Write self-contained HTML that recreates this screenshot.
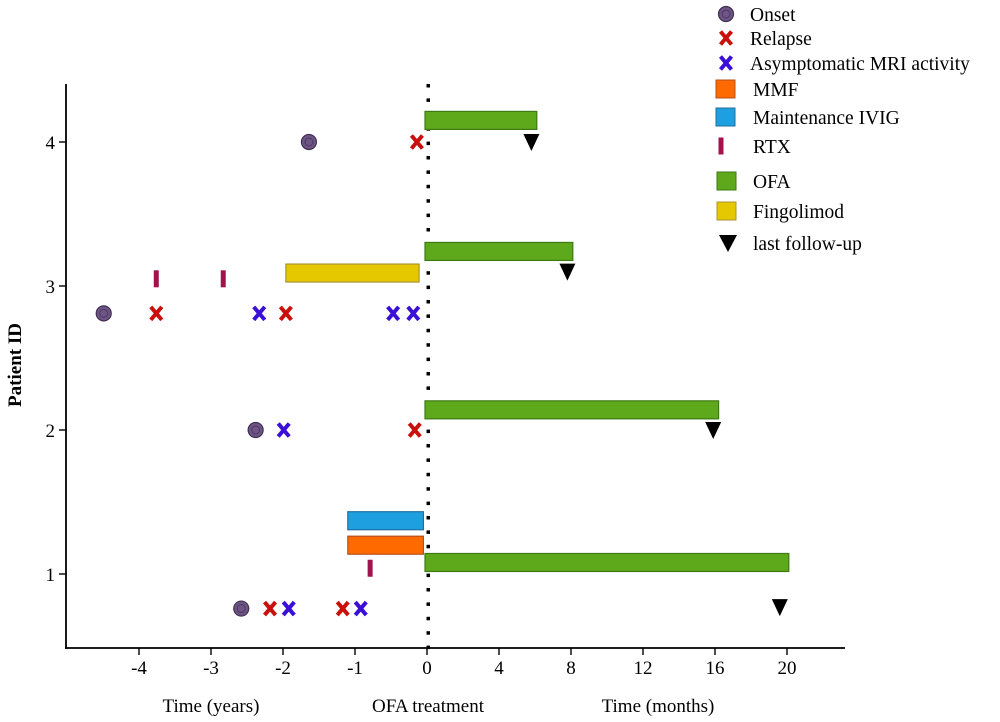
<!DOCTYPE html>
<html><head><meta charset="utf-8"><style>
body{margin:0;background:#fff}
svg{display:block;font-family:"Liberation Serif",serif}
</style></head><body>
<svg id="chart" width="1000" height="722" viewBox="0 0 1000 722" xmlns="http://www.w3.org/2000/svg">
<g id="axes"></g>
<g id="marks"></g>
<g id="legend"></g>
</svg>
<script>
// ---- data ----
const patientTicks = [1, 2, 3, 4];
const yearTicks = [-4, -3, -2, -1, 0];
const monthTicks = [4, 8, 12, 16, 20];
const onsetEvents = [[4.0, -1.64], [2.81, -4.49], [2.0, -2.38], [0.76, -2.58]];
const relapseEvents = [[4.0, -0.14], [2.81, -3.76], [2.81, -1.96], [2.0, -0.17], [0.76, -2.18], [0.76, -1.17]];
const mriEvents = [[2.81, -2.33], [2.81, -0.47], [2.81, -0.19], [2.0, -1.99], [0.76, -1.92], [0.76, -0.92]];
const rtxEvents = [[3.05, -3.76], [3.05, -2.83], [1.04, -0.79]];
const fingolimodBars = [[3.09, -1.96, -0.11]];
const mmfBars = [[1.20, -1.10, -0.05]];
const ivigBars = [[1.37, -1.10, -0.05]];
const ofaBars = [[4.15, 6.1], [3.24, 8.1], [2.14, 16.2], [1.08, 20.1]];
const followUps = [[4.0, 5.8], [3.10, 7.8], [2.0, 15.9], [0.77, 19.6]];

// ---- scales ----
const X0 = 427, PX_YEAR = 72, PX_MONTH = 18;
const xYear = v => X0 + v * PX_YEAR;
const xMonth = m => X0 + m * PX_MONTH;
const yPat = v => 574 - (v - 1) * 144;
const NS = "http://www.w3.org/2000/svg";
function mk(tag, attrs, parent, txt) {
  const e = document.createElementNS(NS, tag);
  for (const k in attrs) e.setAttribute(k, attrs[k]);
  if (txt !== undefined) e.textContent = txt;
  parent.appendChild(e);
  return e;
}
const axes = document.getElementById('axes');
const marks = document.getElementById('marks');
const legend = document.getElementById('legend');

let a = mk('line', {x1: 66, y1: 84, x2: 66, y2: 649, stroke: '#000', 'stroke-width': 1.8}, axes);


a = mk('line', {x1: 65, y1: 648, x2: 845, y2: 648, stroke: '#000', 'stroke-width': 1.8}, axes);


patientTicks.forEach(p => {
  const y = yPat(p);
  mk('line', {x1: 59, y1: y, x2: 66, y2: y, stroke: '#000', 'stroke-width': 1.4}, axes);
  const t = mk('text', {x: 55, y: y + 7, 'text-anchor': 'end', 'font-size': 19}, axes, p);
  
  
});
const tickList = yearTicks.map(v => [xYear(v), v]).concat(monthTicks.map(m => [xMonth(m), m]));
tickList.forEach(([x, lab]) => {
  mk('line', {x1: x, y1: 648, x2: x, y2: 655, stroke: '#000', 'stroke-width': 1.4}, axes);
  const t = mk('text', {x: x, y: 674, 'text-anchor': 'middle', 'font-size': 19}, axes, lab);
  
  
});
[[211, 'Time (years)', 'x-axis-title-years'], [428, 'OFA treatment', 'x-axis-title-ofa'], [658, 'Time (months)', 'x-axis-title-months']].forEach(([x, s, n]) => {
  const t = mk('text', {x: x, y: 712, 'text-anchor': 'middle', 'font-size': 19}, axes, s);
  
  
});
a = mk('text', {x: 0, y: 0, transform: 'translate(21,365) rotate(-90)', 'text-anchor': 'middle', 'font-size': 19, 'font-weight': 'bold'}, axes, 'Patient ID');


for (let y = 84; y < 648; y += 14.4) {
  mk('rect', {x: X0 - 0.5, y: y, width: 3.5, height: 3.5, fill: '#000'}, marks);
}

function onset(g, x, y) {
  mk('circle', {cx: x, cy: y, r: 7.5, fill: '#6e5585', stroke: '#3f2f50', 'stroke-width': 1.2}, g);
  mk('circle', {cx: x, cy: y, r: 4, fill: 'none', stroke: '#4a3860', 'stroke-width': 1}, g);
}
function cross(g, x, y, c) {
  mk('path', {d: `M${x-5.5},${y-6.5}L${x+5.5},${y+6.5}M${x+5.5},${y-6.5}L${x-5.5},${y+6.5}`, stroke: c, 'stroke-width': 4, fill: 'none'}, g);
}
function rtx(g, x, y) { mk('rect', {x: x - 2.5, y: y - 8.5, width: 5, height: 17, fill: '#a3124a'}, g); }
function bar(g, x1, x2, yc, fill, stroke) {
  mk('rect', {x: x1, y: yc - 9, width: x2 - x1, height: 18, fill: fill, stroke: stroke, 'stroke-width': 1.2}, g);
}
function tri(g, x, y, s) { mk('path', {d: `M${x-s},${y-8}L${x+s},${y-8}L${x},${y+9}Z`, fill: '#000'}, g); }

let g;
ofaBars.forEach(([p, m]) => {
  g = mk('g', {}, marks);
  
  
  bar(g, X0 - 2, xMonth(m), yPat(p), '#5ea81c', '#3d7a12');
});
fingolimodBars.forEach(([p, s, e]) => {
  g = mk('g', {}, marks);
  
  
  bar(g, xYear(s), xYear(e), yPat(p), '#e6c800', '#a89430');
});
mmfBars.forEach(([p, s, e]) => {
  g = mk('g', {}, marks);
  
  
  bar(g, xYear(s), xYear(e), yPat(p), '#ff6a00', '#b5501c');
});
ivigBars.forEach(([p, s, e]) => {
  g = mk('g', {}, marks);
  
  
  bar(g, xYear(s), xYear(e), yPat(p), '#1ea0e0', '#1f6e9e');
});
onsetEvents.forEach(([p, t]) => {
  g = mk('g', {}, marks);
  
  
  onset(g, xYear(t), yPat(p));
});
relapseEvents.forEach(([p, t]) => {
  g = mk('g', {}, marks);
  
  
  cross(g, xYear(t), yPat(p), '#c8100c');
});
mriEvents.forEach(([p, t]) => {
  g = mk('g', {}, marks);
  
  
  cross(g, xYear(t), yPat(p), '#3a10d8');
});
rtxEvents.forEach(([p, t]) => {
  g = mk('g', {}, marks);
  
  
  rtx(g, xYear(t), yPat(p));
});
followUps.forEach(([p, m]) => {
  g = mk('g', {}, marks);
  
  
  tri(g, xMonth(m), yPat(p), 8);
});

const legItems = [
  [14, 'Onset', 'legend-onset', (g, y) => onset(g, 726, y)],
  [38, 'Relapse', 'legend-relapse', (g, y) => cross(g, 726, y, '#c8100c')],
  [63, 'Asymptomatic MRI activity', 'legend-mri', (g, y) => cross(g, 726, y, '#3a10d8')],
  [89, 'MMF', 'legend-mmf', (g, y) => mk('rect', {x: 716, y: y - 9, width: 19, height: 18, fill: '#ff6a00', stroke: '#b5501c'}, g)],
  [117, 'Maintenance IVIG', 'legend-ivig', (g, y) => mk('rect', {x: 716, y: y - 9, width: 19, height: 18, fill: '#1ea0e0', stroke: '#1f6e9e'}, g)],
  [146, 'RTX', 'legend-rtx', (g, y) => rtx(g, 721, y)],
  [181, 'OFA', 'legend-ofa', (g, y) => mk('rect', {x: 717, y: y - 9, width: 19, height: 18, fill: '#5ea81c', stroke: '#3d7a12'}, g)],
  [211, 'Fingolimod', 'legend-fingolimod', (g, y) => mk('rect', {x: 717, y: y - 9, width: 19, height: 18, fill: '#e6c800', stroke: '#a89430'}, g)],
  [243, 'last follow-up', 'legend-last-follow-up', (g, y) => tri(g, 728, y, 9)]
];
legItems.forEach(([y, label, name, draw]) => {
  g = mk('g', {}, legend);
  
  
  draw(g, y);
  mk('text', {x: label === 'Onset' || label === 'Relapse' || label === 'Asymptomatic MRI activity' ? 750 : 753, y: y + 7, 'font-size': 19.5}, g, label);
});
</script>
</body></html>
